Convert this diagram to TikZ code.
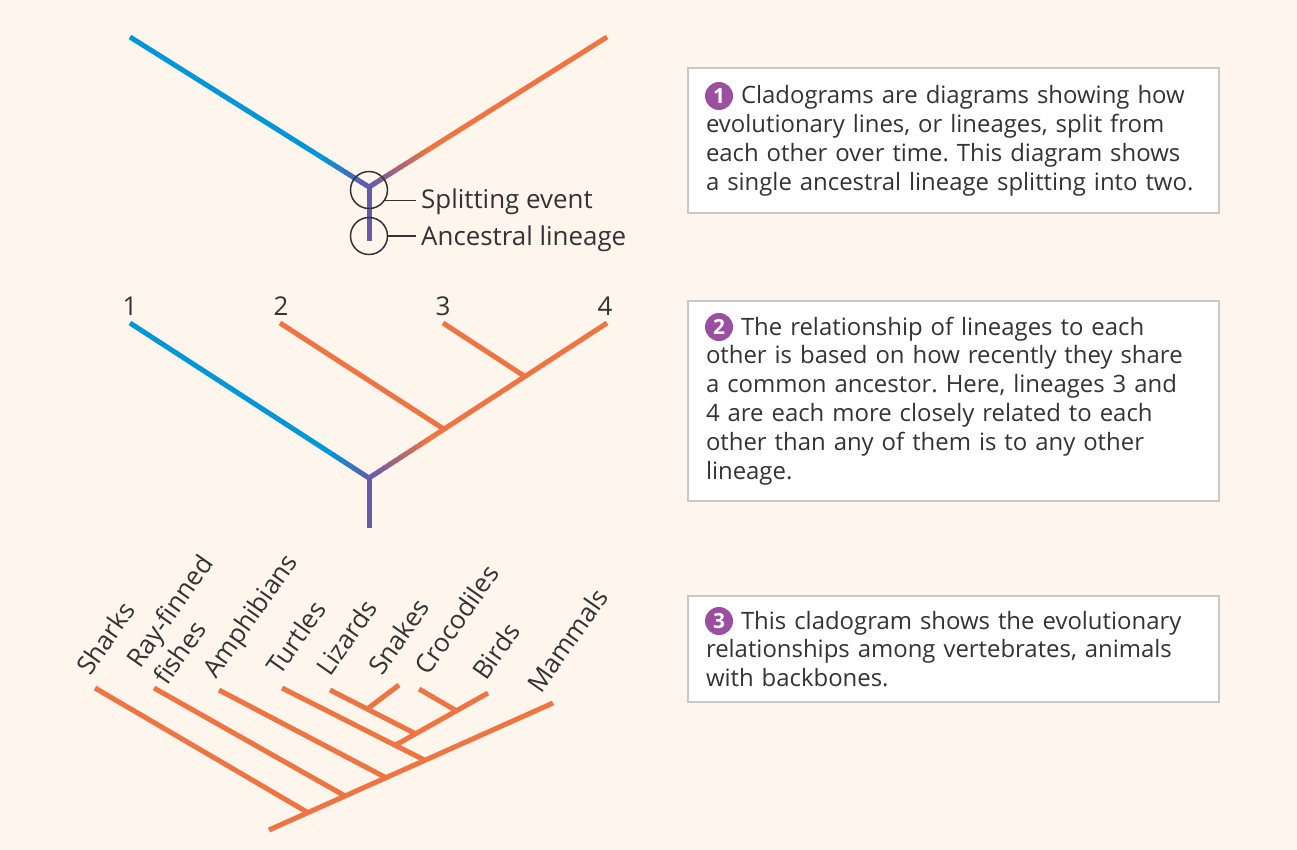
\documentclass[tikz,border=0pt]{standalone}
\usepackage{xcolor}
\usepackage{fontspec}
\setmainfont{Open Sans}
\frenchspacing
\usetikzlibrary{calc}
\definecolor{cream}{RGB}{254,246,237}
\definecolor{lineblue}{RGB}{0,150,218}
\definecolor{lineorange}{RGB}{240,116,66}
\definecolor{linepurple}{RGB}{102,90,170}
\definecolor{badge}{RGB}{155,79,160}
\definecolor{ink}{RGB}{51,51,51}
\definecolor{boxline}{RGB}{200,200,200}
\newcommand{\lineage}[1]{\draw[line width=5bp,#1]}
% colour fade along a lineage, in short pieces
\newcommand{\fadeline}[4]{
    \foreach \k in {0,...,11}{
      \pgfmathtruncatemacro{\p}{100-100*\k/11}
      \lineage{#3!\p!#4} ($(#1)!\k/12!(#2)$)--($(#1)!{min(1,(\k+1.3)/12)}!(#2)$);
    }
}
\tikzset{
  txt/.style={text=ink,font=\fontsize{26}{30}\selectfont,inner sep=0pt},
  ring/.style={circle,draw=ink,line width=1.5bp,minimum size=37bp,inner sep=0pt},
  leader/.style={draw=ink,line width=1.5bp},
  notebox/.style={txt,font=\fontsize{24}{29}\selectfont,draw=boxline,line width=1.2bp,
    fill=white,text width=495bp,inner xsep=18bp,inner ysep=0pt,align=left},
  stepbadge/.style={circle,fill=badge,text=white,minimum size=28bp,inner sep=0pt,
    font=\fontsize{21}{21}\selectfont\bfseries},
  taxon/.style={txt,rotate=55,anchor=base west}
}
\begin{document}
\begin{tikzpicture}[x=1bp,y=-1bp]
\fill[cream] (0,0) rectangle (1297,850);
\useasboundingbox (0,0) rectangle (1297,850);
% panel 1: one split
\coordinate (a1) at (130,37);
\coordinate (b1) at (607,37);
\coordinate (r1) at (369,187);
\coordinate (s1) at (369,241);
\coordinate (a1f) at ($(a1)!0.8!(r1)$);
\coordinate (b1f) at ($(r1)!0.26!(b1)$);
\lineage{lineblue} (a1)--(a1f);
\fadeline{a1f}{r1}{lineblue}{linepurple}
\fadeline{r1}{b1f}{linepurple}{lineorange}
\lineage{lineorange} (b1f)--(b1);
\lineage{linepurple} (r1)--(s1);
\fill[linepurple] (r1) circle (2.5);
\node[ring] (split) at (369,190) {};
\node[ring] (anc) at (369,236) {};
\node[txt,anchor=base west] (splitlbl) at (421,208) {Splitting event};
\node[txt,anchor=base west] (anclbl) at (421,245) {Ancestral lineage};
\draw[leader] (split.-33) -- ($(split.-33 -| splitlbl.west)+(-5,0)$);
\draw[leader] (anc.0) -- ($(anc.0 -| anclbl.west)+(-5,0)$);
% panel 2: four lineages
\coordinate (t1) at (130,323);
\coordinate (t2) at (280,323);
\coordinate (t3) at (443,323);
\coordinate (t4) at (607,323);
\coordinate (r2) at (369,478);
\coordinate (s2) at (369,528);
\coordinate (j2) at ($(r2)!0.315!(t4)$);
\coordinate (j3) at ($(r2)!0.655!(t4)$);
\coordinate (t1f) at ($(t1)!0.84!(r2)$);
\coordinate (t4f) at ($(r2)!0.26!(t4)$);
\lineage{lineblue} (t1)--(t1f);
\fadeline{t1f}{r2}{lineblue}{linepurple}
\fadeline{r2}{t4f}{linepurple}{lineorange}
\lineage{lineorange} (t4f)--(t4) (t2)--(j2) (t3)--(j3);
\lineage{linepurple} (r2)--(s2);
\fill[linepurple] (r2) circle (2.5);
\foreach \n/\x in {1/130,2/281,3/443,4/605}
  \node[txt] (num\n) at (\x,306) {\n};
% panel 3: vertebrates
\coordinate (root3) at (269,830);
\coordinate (mam) at (553,703);
\coordinate (sh) at (95,688);
\coordinate (rf) at (154,688);
\coordinate (am) at (219,690);
\coordinate (tu) at (282,688);
\coordinate (bi) at (488,693);
\coordinate (li) at (330,690);
\coordinate (sn) at (399,685);
\coordinate (cr) at (419,689);
\coordinate (jsh) at ($(root3)!0.137!(mam)$);
\coordinate (jrf) at ($(root3)!0.268!(mam)$);
\coordinate (jam) at ($(root3)!0.412!(mam)$);
\coordinate (jtu) at ($(root3)!0.549!(mam)$);
\coordinate (jsa) at ($(tu)!0.792!(jtu)$);
\coordinate (jli) at ($(jsa)!0.22!(bi)$);
\coordinate (jcr) at ($(jsa)!0.66!(bi)$);
\coordinate (jsn) at ($(li)!0.434!(jli)$);
\foreach \a/\b in {root3/mam,sh/jsh,rf/jrf,am/jam,tu/jtu,jsa/bi,li/jli,cr/jcr,sn/jsn}
  \lineage{lineorange} (\a)--(\b);
\node[taxon] (lsh) at (90,677) {Sharks};
\node[taxon] (lrf) at (140,670) {Ray-finned};
\node[taxon] (lfi) at (167,687) {fishes};
\node[taxon] (lam) at (216,680) {Amphibians};
\node[taxon] (ltu) at (280,677) {Turtles};
\node[taxon] (lli) at (330,678) {Lizards};
\node[taxon] (lsn) at (382,677) {Snakes};
\node[taxon] (lcr) at (428,677) {Crocodiles};
\node[taxon] (lbi) at (486,682) {Birds};
\node[taxon] (lma) at (541,695) {Mammals};
% notes
\node[notebox,minimum height=145bp] (note1) at (953.5,140.5) {\hspace*{35bp}Cladograms are diagrams showing how\\evolutionary lines, or lineages, split from\\each other over time. This diagram shows\\a single ancestral lineage splitting into two.};
\node[notebox,minimum height=200bp] (note2) at (953.5,401) {\hspace*{35bp}The relationship of lineages to each\\other is based on how recently they share\\a common ancestor. Here, lineages 3 and\\4 are each more closely related to each\\other than any of them is to any other\\lineage.};
\node[notebox,minimum height=106bp] (note3) at (953.5,649) {\hspace*{35bp}This cladogram shows the evolutionary\\relationships among vertebrates, animals\\with backbones.};
\node[stepbadge] (step1) at (719,96) {1};
\node[stepbadge] (step2) at (719,327) {2};
\node[stepbadge] (step3) at (719,621) {3};
\end{tikzpicture}
\end{document}
